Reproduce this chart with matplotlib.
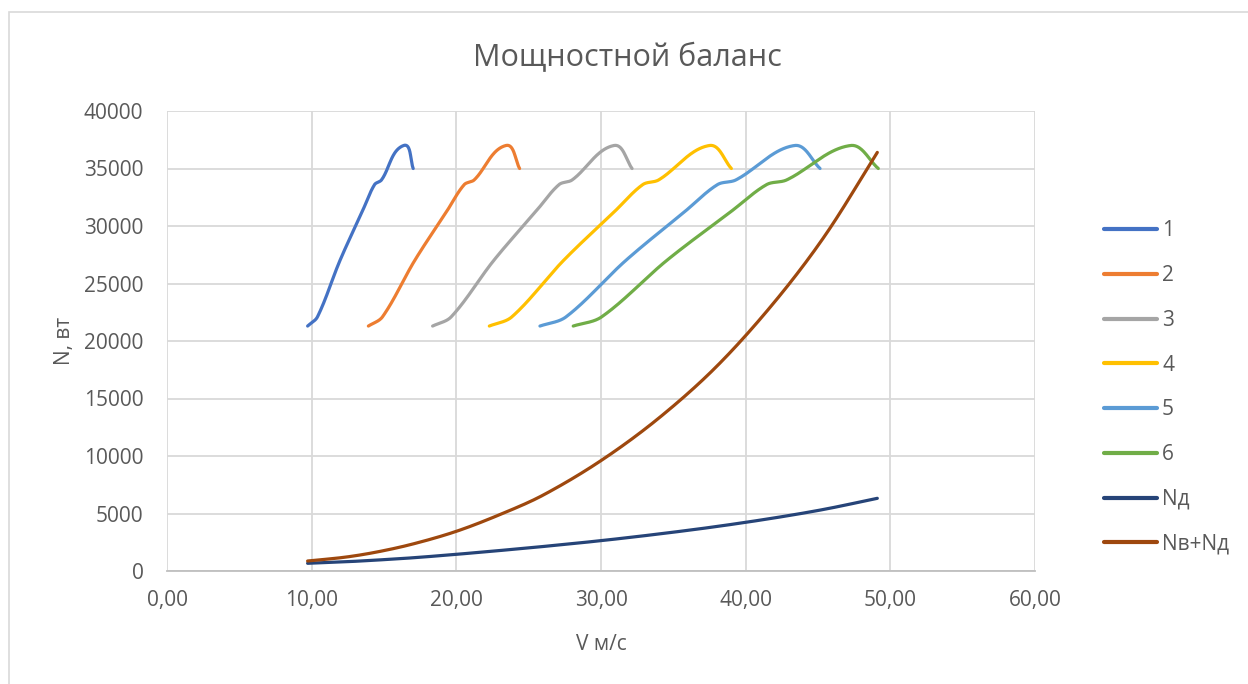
import numpy as np
import matplotlib
matplotlib.use("Agg")
import matplotlib.pyplot as plt
from matplotlib.patches import Rectangle

plt.rcParams['font.family'] = ['Open Sans', 'DejaVu Sans']

# Engine power curve (shared by all gears), W
gear_power = [21300, 22100, 27000, 31300, 33600, 34000, 37000, 35000]
# Speed multipliers relative to each gear's lowest speed
speed_ratio = [1.0, 1.07, 1.23, 1.39, 1.476, 1.525, 1.683, 1.751]
# Lowest speed in each gear, m/s
gear_v0 = [9.72, 13.92, 18.36, 22.28, 25.78, 28.08]
gear_names = ['1', '2', '3', '4', '5', '6']
gear_colors = ['#4472C4', '#ED7D31', '#A5A5A5', '#FFC000', '#5B9BD5', '#70AD47']

# Resistance power curves
v_res = [9.72, 12.3, 14.5, 17.0, 20.0, 23.0, 26.0, 30.0, 34.0, 38.0, 42.0, 45.5, 49.1]
n_d = [670, 800, 950, 1150, 1450, 1780, 2130, 2640, 3220, 3870, 4620, 5380, 6320]
n_vd = [870, 1200, 1650, 2350, 3450, 4900, 6600, 9600, 13300, 17800, 23400, 29200, 36400]

x_lim = (0, 60)
y_lim = (0, 40000)


def smooth(x, y, sx, sy, k=0.33, n=40):
    """Bezier smoothing in screen-proportional space; tangent arms scale
    with the length of each segment."""
    p = np.column_stack([np.asarray(x, float) * sx, np.asarray(y, float) * sy])
    m = len(p)
    tang = np.zeros_like(p)
    for i in range(m):
        a = p[max(i - 1, 0)]
        b = p[min(i + 1, m - 1)]
        d = b - a
        tang[i] = d / (np.hypot(*d) + 1e-12)
    out = []
    for i in range(m - 1):
        p1, p2 = p[i], p[i + 1]
        L = np.hypot(*(p2 - p1))
        c1 = p1 + tang[i] * L * k
        c2 = p2 - tang[i + 1] * L * k
        t = np.linspace(0, 1, n, endpoint=(i == m - 2))[:, None]
        seg = ((1 - t) ** 3) * p1 + 3 * ((1 - t) ** 2) * t * c1 + 3 * (1 - t) * t ** 2 * c2 + t ** 3 * p2
        out.append(seg)
    out = np.vstack(out)
    return out[:, 0] / sx, out[:, 1] / sy


fig = plt.figure(figsize=(12.48, 6.84), dpi=100)
ax = fig.add_axes([167 / 1248, 113 / 684, 868 / 1248, 460 / 684])

sx = 868 / (x_lim[1] - x_lim[0])
sy = 460 / (y_lim[1] - y_lim[0])

lw = 2.3
for v0, name, col in zip(gear_v0, gear_names, gear_colors):
    xs = [v0 * r for r in speed_ratio]
    xx, yy = smooth(xs, gear_power, sx, sy)
    ax.plot(xx, yy, color=col, lw=lw, label=name, solid_capstyle='round', zorder=3)

xx, yy = smooth(v_res, n_d, sx, sy)
ax.plot(xx, yy, color='#264478', lw=lw, label='Nд', solid_capstyle='round', zorder=3)
xx, yy = smooth(v_res, n_vd, sx, sy)
ax.plot(xx, yy, color='#9E480E', lw=lw, label='Nв+Nд', solid_capstyle='round', zorder=3)

ax.set_xlim(*x_lim)
ax.set_ylim(*y_lim)
ax.set_xticks(np.arange(0, 61, 10))
ax.set_xticklabels([f"{v:.2f}".replace('.', ',') for v in np.arange(0, 61, 10)])
ax.set_yticks(np.arange(0, 40001, 5000))
ax.set_yticklabels([str(v) for v in range(0, 40001, 5000)])

ax.grid(True, color='#D9D9D9', lw=1.3)
ax.set_axisbelow(True)
for s in ['top', 'right', 'left']:
    ax.spines[s].set_visible(False)
ax.spines['bottom'].set_color('#BFBFBF')
ax.spines['bottom'].set_linewidth(1.3)
ax.tick_params(axis='x', length=0, labelsize=15, labelcolor='#595959', pad=14)
ax.tick_params(axis='y', length=0, labelsize=15, labelcolor='#595959', pad=17)

ax.set_xlabel('V м/с', fontsize=15, color='#595959', labelpad=16)
ax.set_ylabel('N, вт', fontsize=15, color='#595959', labelpad=6)

fig.text(627 / 1248, 1 - 58 / 684, 'Мощностной баланс', ha='center', va='center',
         fontsize=22, color='#595959')

leg = ax.legend(loc='upper left', bbox_to_anchor=(1096 / 1248, 1 - 212 / 684),
                bbox_transform=fig.transFigure, frameon=False, fontsize=15,
                labelcolor='#595959', handlelength=2.55, handletextpad=0.22,
                labelspacing=1.14, borderaxespad=0)
for h in leg.get_lines():
    h.set_linewidth(3)

fig.patches.append(Rectangle((9 / 1248, -0.1), 1.2, 1.1 - 12 / 684,
                             transform=fig.transFigure, fill=False,
                             edgecolor='#D9D9D9', lw=1.2))

fig.savefig('out.png', dpi=100, facecolor='white')
